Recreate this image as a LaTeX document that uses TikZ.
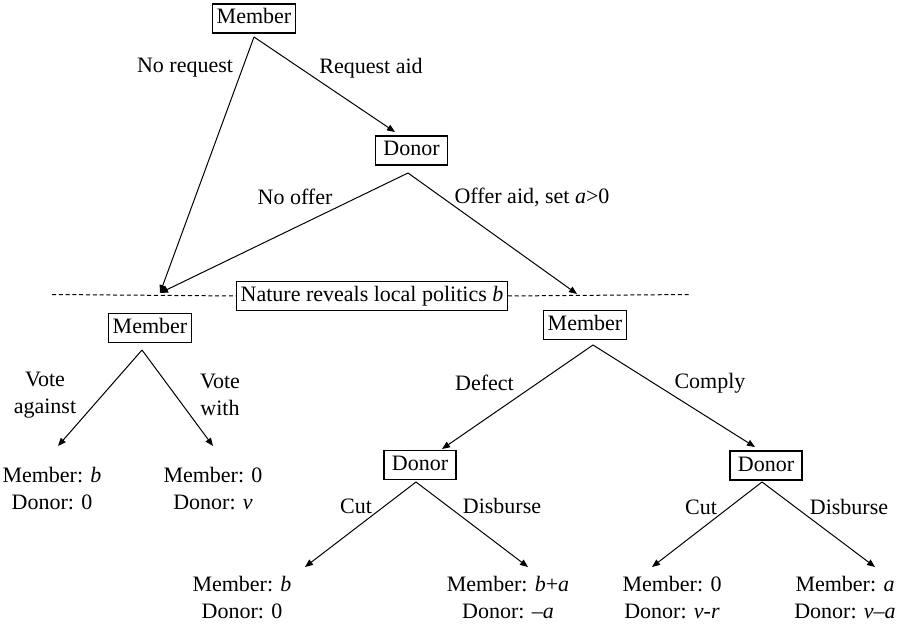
\documentclass[tikz,border=0pt]{standalone}
\usepackage{fontspec}
\setmainfont{Liberation Serif}
\usetikzlibrary{arrows.meta}

\tikzset{
  player/.style={draw, line width=0.6pt, inner xsep=2pt, inner ysep=2pt,
    text height=8pt, text depth=2.5pt, minimum width=36pt},
  move/.style={inner sep=0pt},
  payoff/.style={inner sep=0pt, align=center},
  branch/.style={line width=0.5pt, -{Triangle[length=4pt,width=3.2pt]}},
  infoline/.style={line width=0.5pt, dash pattern=on 2pt off 1.4pt}
}

\begin{document}
\begin{tikzpicture}[x=0.5pt,y=-0.5pt,
    every node/.style={font=\rmfamily\fontsize{11}{13.5}\selectfont}]
  \useasboundingbox (0,0) rectangle (898,625);

  % Decision nodes
  \node[player] (m0) at (254,18.5) {Member};
  \node[player] (d0) at (411.5,150.5) {Donor};
  \node[player] (nat) at (372,296) {Nature reveals local politics \textit{b}};
  \node[player] (m1) at (150,328) {Member};
  \node[player] (m2) at (585,325) {Member};
  \node[player] (d1) at (420,465) {Donor};
  \node[player] (d2) at (766,465.5) {Donor};

  % Branch points and arrow ends
  \coordinate (a0) at (254,37);
  \coordinate (ad0) at (408,173);
  \coordinate (am1) at (142,350);
  \coordinate (am2) at (593,345);
  \coordinate (ad1) at (416,482);
  \coordinate (ad2) at (762,482);
  \coordinate (req) at (395,132);
  \coordinate (nl) at (160,293);
  \coordinate (nr) at (577,294);
  \coordinate (dl) at (52,294.5);
  \coordinate (dr) at (690,294.5);
  \coordinate (vagainst) at (58,446);
  \coordinate (vwith) at (213,446);
  \coordinate (def) at (442,449);
  \coordinate (com) at (755,447);
  \coordinate (cut1) at (305,567);
  \coordinate (dis1) at (528,567);
  \coordinate (cut2) at (652,567);
  \coordinate (dis2) at (875,567);

  % Nature's move
  \draw[infoline] (dl) -- (nat.west);
  \draw[infoline] (nat.east) -- (dr);

  % Branches
  \draw[branch] (a0) -- (nl);
  \draw[branch] (a0) -- (req);
  \draw[branch] (ad0) -- (nl);
  \draw[branch] (ad0) -- (nr);
  \draw[branch] (am1) -- (vagainst);
  \draw[branch] (am1) -- (vwith);
  \draw[branch] (am2) -- (def);
  \draw[branch] (am2) -- (com);
  \draw[branch] (ad1) -- (cut1);
  \draw[branch] (ad1) -- (dis1);
  \draw[branch] (ad2) -- (cut2);
  \draw[branch] (ad2) -- (dis2);

  % Move labels
  \node[move] (lnoreq) at (185,68) {No request};
  \node[move] (lreq) at (371,68) {Request aid};
  \node[move] (lnooff) at (295,197) {No offer};
  \node[move] (loff) at (532,197) {Offer aid, set \textit{a}>0};
  \node[payoff] (lagainst) at (45,395) {Vote\\against};
  \node[payoff] (lwith) at (220,395) {Vote\\with};
  \node[move] (ldef) at (484.5,383) {Defect};
  \node[move] (lcom) at (710,383) {Comply};
  \node[move] (lcut1) at (356,506) {Cut};
  \node[move] (ldis1) at (502,506) {Disburse};
  \node[move] (lcut2) at (701,507) {Cut};
  \node[move] (ldis2) at (849,507) {Disburse};

  % Payoffs
  \node[payoff] (p1) at (52,489) {Member: \textit{b}\\Donor: 0};
  \node[payoff] (p2) at (213,489) {Member: 0\\Donor: \textit{v}};
  \node[payoff] (p3) at (242,598) {Member: \textit{b}\\Donor: 0};
  \node[payoff] (p4) at (508,598) {Member: \textit{b}+\textit{a}\\Donor: –\textit{a}};
  \node[payoff] (p5) at (672,598) {Member: 0\\Donor: \textit{v}-\textit{r}};
  \node[payoff] (p6) at (845,598) {Member: \textit{a}\\Donor: \textit{v}–\textit{a}};
\end{tikzpicture}
\end{document}
